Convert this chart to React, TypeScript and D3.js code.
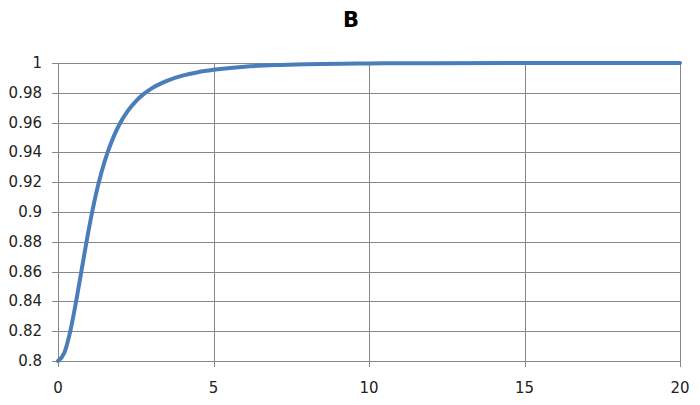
import React from "react";
import * as d3 from "d3";

const title = "B";
const xValues = [0, 0.2, 0.4, 0.6, 0.8, 1.0, 1.2, 1.4, 1.6, 1.8, 2.0, 2.25, 2.5, 2.75, 3, 3.5, 4, 4.5, 5, 6, 7, 8, 10, 12, 15, 20];
const yValues = [0.8, 0.8053, 0.8205, 0.842, 0.866, 0.8895, 0.91, 0.9268, 0.9403, 0.9511, 0.9597, 0.968, 0.9743, 0.9791, 0.9828, 0.988, 0.9915, 0.9938, 0.9954, 0.9975, 0.9986, 0.9992, 0.9997, 0.9999, 1.0, 1.0];
const xTicks = [0, 5, 10, 15, 20];
const yTicks = [0.8, 0.82, 0.84, 0.86, 0.88, 0.9, 0.92, 0.94, 0.96, 0.98, 1];

export default function App() {
  const W = 700, H = 405;
  const left = 58, right = 680, top = 63, bottom = 361;
  const x = d3.scaleLinear().domain([0, 20]).range([left, right]);
  const y = d3.scaleLinear().domain([0.8, 1]).range([bottom, top]);
  const pts: [number, number][] = xValues.map((v, i) => [v, yValues[i]]);
  const line = d3
    .line<[number, number]>()
    .x((d) => x(d[0]))
    .y((d) => y(d[1]))
    .curve(d3.curveMonotoneX);
  const grid = "#878787";
  const font = "'DejaVu Sans', sans-serif";
  const fmt = (v: number) => String(+v.toFixed(2));
  return (
    <svg
      width={W}
      height={H}
      style={{ position: "absolute", left: 0, top: 0, background: "#fff" }}
    >
      <rect x={0} y={0} width={W} height={H} fill="#fff" />
      <text
        x={351}
        y={27}
        textAnchor="middle"
        fontFamily={font}
        fontWeight="bold"
        fontSize={21}
        fill="#000"
      >
        {title}
      </text>
      <g shapeRendering="crispEdges" stroke={grid} strokeWidth={1}>
        {yTicks.map((t) => (
          <line key={"gy" + t} x1={left - 6} x2={right} y1={Math.round(y(t)) + 0.5} y2={Math.round(y(t)) + 0.5} />
        ))}
        {xTicks.map((t) => (
          <line key={"gx" + t} x1={Math.round(x(t)) + 0.5} x2={Math.round(x(t)) + 0.5} y1={top} y2={bottom + 6} />
        ))}
      </g>
      <g fontFamily={font} fontSize={15} fill="#222">
        {yTicks.map((t) => (
          <text key={"ly" + t} x={42} y={y(t)} textAnchor="end" dominantBaseline="central">
            {fmt(t)}
          </text>
        ))}
        {xTicks.map((t) => (
          <text key={"lx" + t} x={x(t)} y={393} textAnchor="middle">
            {t}
          </text>
        ))}
      </g>
      <path
        d={line(pts) || ""}
        fill="none"
        stroke="#4a7ebb"
        strokeWidth={4}
        strokeLinecap="round"
        strokeLinejoin="round"
      />
    </svg>
  );
}
